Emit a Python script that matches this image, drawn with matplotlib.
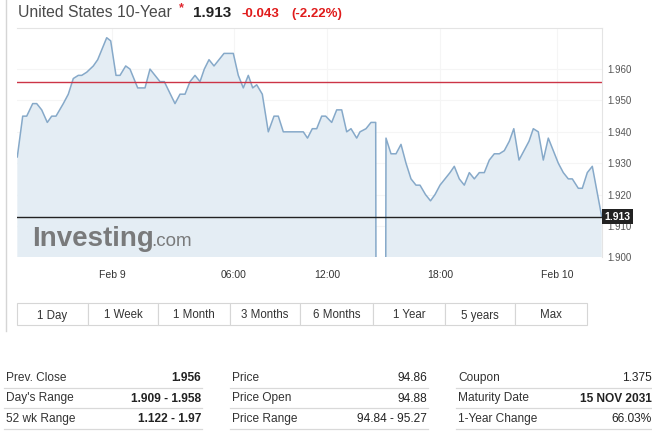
import numpy as np
from matplotlib import pyplot as plt
from matplotlib.patches import Rectangle

# chart data (x = slot position along the intraday axis, y = yield)
slot = [0.3, 5.7, 9.7, 15.7, 19.7, 24.7, 30.3, 34.7, 39, 46.3,
        51.3, 56.3, 61.3, 64.7, 69.7, 76.3, 80.7, 89.7, 93.7, 99,
        103, 108.7, 113, 120.7, 124, 128, 133, 143, 147.3, 158,
        163, 168, 173, 178, 183, 187.3, 192, 197, 207, 216.3,
        221.3, 226.3, 231.3, 235.7, 239.7, 245.3, 251.3, 257, 261.3, 266.3,
        286.3, 290.5, 295.3, 299.7, 304.7, 308.7, 314.7, 319.7, 324.7, 329.7,
        334, 339.7, 343, 349, 354, 358.7, 359, 364, 368.7, 369,
        374, 379, 384, 389, 394, 399, 403, 408.5, 413.5, 418,
        423, 428, 433, 437.3, 442.3, 447.3, 452.3, 457.3, 462.3, 467.3,
        472.3, 477.3, 482.3, 487.3, 492.3, 496.8, 502, 507, 512, 516.3,
        521.3, 526.3, 531.3, 536.3, 541.3, 546.3, 551.3, 555.3, 561.3, 565.3,
        570.3, 575.3, 584.7]
yld = [1.932, 1.945, 1.945, 1.949, 1.949, 1.947, 1.943, 1.945, 1.945, 1.949,
       1.952, 1.957, 1.958, 1.958, 1.959, 1.961, 1.963, 1.970, 1.969, 1.958,
       1.958, 1.961, 1.960, 1.954, 1.954, 1.954, 1.960, 1.956, 1.956, 1.949,
       1.952, 1.952, 1.956, 1.958, 1.956, 1.960, 1.963, 1.961, 1.965, 1.965,
       1.958, 1.954, 1.958, 1.954, 1.955, 1.952, 1.940, 1.945, 1.945, 1.940,
       1.940, 1.938, 1.941, 1.941, 1.945, 1.945, 1.943, 1.947, 1.947, 1.940,
       1.941, 1.938, 1.940, 1.941, 1.943, 1.943, 1.890, np.nan, 1.890, 1.938,
       1.933, 1.933, 1.936, 1.930, 1.925, 1.923, 1.923, 1.920, 1.918, 1.920,
       1.923, 1.925, 1.927, 1.929, 1.925, 1.923, 1.927, 1.925, 1.927, 1.927,
       1.931, 1.933, 1.933, 1.934, 1.937, 1.941, 1.931, 1.934, 1.937, 1.941,
       1.940, 1.931, 1.938, 1.934, 1.930, 1.927, 1.925, 1.925, 1.922, 1.922,
       1.927, 1.929, 1.913]

prev_close = 1.956
last = 1.913
y_ticks = [1.900, 1.910, 1.920, 1.930, 1.940, 1.950, 1.960]
x_tick_pos = [95, 217, 310, 423, 540]
x_tick_labels = ['Feb 9', '06:00', '12:00', '18:00', 'Feb 10']

buttons = ['1 Day', '1 Week', '1 Month', '3 Months', '6 Months', '1 Year', '5 years', 'Max']

table = [
    [('Prev. Close', '1.956', True), ("Day's Range", '1.909 - 1.958', True), ('52 wk Range', '1.122 - 1.97', True)],
    [('Price', '94.86', False), ('Price Open', '94.88', False), ('Price Range', '94.84 - 95.27', False)],
    [('Coupon', '1.375', False), ('Maturity Date', '15 NOV 2031', True), ('1-Year Change', '66.03%', False)],
]

plt.rcParams['font.family'] = ['Liberation Sans', 'DejaVu Sans']

W, H = 652, 437
fig = plt.figure(figsize=(W / 100, H / 100), dpi=100)

# overlay in page pixels for page furniture (y measured from the top)
ov = fig.add_axes([0, 0, 1, 1])
ov.set_xlim(0, W)
ov.set_ylim(0, H)
ov.axis('off')


def Y(v):
    return H - v


# main chart
ax = fig.add_axes([17 / W, 1 - 257.3 / H, 585 / W, 229.3 / H])
y = np.array(yld)
ax.fill_between(slot, y, 1.88, color='#e4edf4', lw=0)
ax.plot(slot, y, color='#86a9c9', lw=1.1)
ax.axhline(prev_close, color='#cc3446', lw=1)
ax.axhline(last, color='#222222', lw=1)
ax.set_xlim(0, 585)
ax.set_ylim(1.900, 1.9731)
ax.set_yticks(y_ticks)
ax.set_yticklabels([f'{v:.3f}' for v in y_ticks])
ax.set_xticks(x_tick_pos)
ax.set_xticklabels(x_tick_labels)
ax.yaxis.tick_right()
ax.tick_params(axis='y', length=0, pad=4, labelsize=7, labelcolor='#555555')
ax.tick_params(axis='x', length=0, pad=9, labelsize=7.5, labelcolor='#333333')
ax.grid(True, color='#f5f5f5', lw=0.8)
ax.set_axisbelow(True)
for s in ['left', 'bottom']:
    ax.spines[s].set_visible(False)
for s in ['top', 'right']:
    ax.spines[s].set_color('#e4e4e4')
    ax.spines[s].set_linewidth(0.8)

ax.annotate(f'{last:.3f}', xy=(1.0, last), xycoords=('axes fraction', 'data'),
            xytext=(2, 0), textcoords='offset points', ha='left', va='center',
            fontsize=7.5, fontweight='bold', color='white', annotation_clip=False,
            bbox=dict(boxstyle='square,pad=0.25', fc='#222222', ec='none'))

# watermark
ax.text(0.025, 0.05, 'Investing', transform=ax.transAxes, fontsize=20,
        fontweight='bold', color='#6e6e6e', alpha=0.9, va='baseline', ha='left')
ax.text(0.23, 0.05, '.com', transform=ax.transAxes, fontsize=13.5,
        color='#6e6e6e', alpha=0.9, va='baseline', ha='left')

# title line
ov.text(18, Y(17), 'United States 10-Year', fontsize=11.3, color='#4a4a4a', va='baseline')
ov.text(181, Y(11), '*', fontsize=9, color='#e0262e', fontweight='bold', ha='center', va='baseline')
ov.text(193, Y(17), '1.913', fontsize=11, color='#222222', fontweight='bold', va='baseline')
ov.text(241, Y(17), '-0.043', fontsize=9.5, color='#e01b1b', fontweight='bold', va='baseline')
ov.text(291, Y(17), '(-2.22%)', fontsize=9.5, color='#e01b1b', fontweight='bold', va='baseline')

# container left border
ov.plot([6, 6], [Y(0), Y(331)], color='#d5d5d5', lw=1)

# range buttons
edges = [17, 88, 158, 230, 300, 373, 445, 515, 587]
for i, b in enumerate(buttons):
    ov.add_patch(Rectangle((edges[i], Y(325)), edges[i + 1] - edges[i], 22,
                           fc='white', ec='#d6d6d6', lw=0.8))
    ov.text((edges[i] + edges[i + 1]) / 2, Y(309.5), b, fontsize=8.3, color='#333333',
            ha='center', va='top')

# stats table
col_x = [(6, 201), (232, 427), (458, 652)]
row_y = [381, 401.5, 422]
for c, col in enumerate(table):
    lx, rx = col_x[c]
    for r, (lab, val, bold) in enumerate(col):
        ov.text(lx, Y(row_y[r]), lab, fontsize=8.6, color='#333333', va='baseline')
        ov.text(rx, Y(row_y[r]), val, fontsize=8.6, color='#222222', va='baseline', ha='right',
                fontweight='bold' if bold else 'normal')
        ov.plot([lx - 2, rx + 1], [Y(row_y[r] + 6.5)] * 2, color='#d9d9d9', lw=0.9)

fig.savefig('out.png', dpi=100)
